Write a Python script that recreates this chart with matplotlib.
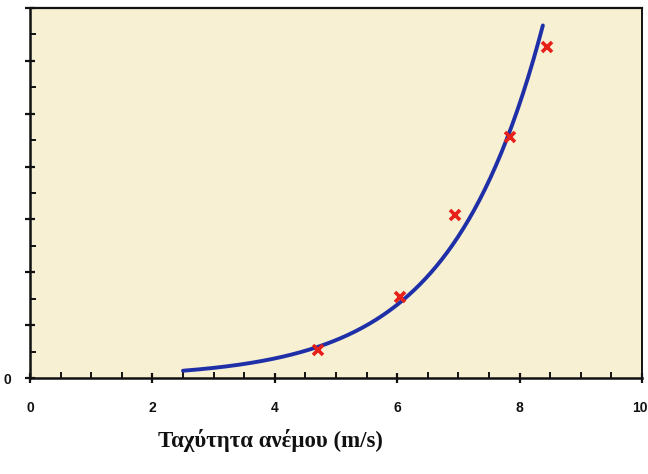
import matplotlib
matplotlib.use("Agg")
import matplotlib.pyplot as plt
import numpy as np
from matplotlib.ticker import MultipleLocator, FixedLocator

# Measured points (red crosses)
speed_pts = [4.71, 6.05, 6.94, 7.84, 8.45]
power_pts = [0.53, 1.53, 3.08, 4.56, 6.26]

# Exponential trendline range (as drawn in the picture)
trend_start = 2.5
trend_end = 8.38

x_ticks = [0, 2, 4, 6, 8, 10]
x_labels = ["0", "2", "4", "6", "8", "10"]
xlabel = "Ταχύτητα ανέμου (m/s)"

# exponential trendline fitted to the measured points
b, a = np.polyfit(speed_pts, np.log(power_pts), 1)
tx = np.linspace(trend_start, trend_end, 200)
ty = np.exp(a + b * tx)

fig = plt.figure(figsize=(6.48, 4.74), dpi=100)
fig.patch.set_facecolor("white")
ax = fig.add_axes([30/648, 1 - 378/474, 612/648, 370/474])
ax.set_facecolor("#f7f0d3")

ax.plot(tx, ty, color="#1f2fa8", lw=2.8, solid_capstyle="round", zorder=2)
ax.plot(speed_pts, power_pts, linestyle="none", marker="x", color="#e8201a",
        markersize=7, markeredgewidth=2.6, zorder=3)

ax.set_xlim(0, 10)
ax.set_ylim(0, 7)
ax.xaxis.set_major_locator(FixedLocator(x_ticks))
ax.xaxis.set_minor_locator(MultipleLocator(0.5))
ax.yaxis.set_minor_locator(MultipleLocator(0.5))
# last label is drawn separately so it stays inside the figure
ax.set_xticklabels(x_labels[:-1] + [""])
ax.set_yticks(range(0, 8))
ax.set_yticklabels(["0" if v == 0 else "" for v in range(0, 8)])

lab_font = dict(fontfamily="Liberation Sans", fontweight="bold", fontsize=10)
for lab in ax.get_xticklabels() + ax.get_yticklabels():
    lab.set_fontfamily(lab_font["fontfamily"])
    lab.set_fontweight(lab_font["fontweight"])
    lab.set_fontsize(lab_font["fontsize"])

ax.annotate(x_labels[-1], xy=(x_ticks[-1], 0), xycoords=("data", "axes fraction"),
            xytext=(4, -16.5), textcoords="offset points", ha="right", va="top",
            color="#111111", annotation_clip=False, **lab_font)

ax.tick_params(axis="x", which="major", direction="inout", length=7, width=1.6, pad=13, colors="#111111")
ax.tick_params(axis="x", which="minor", direction="in", length=4, width=1.4, colors="#111111")
ax.tick_params(axis="y", which="major", direction="inout", length=7, width=1.6, pad=10, colors="#111111")
ax.tick_params(axis="y", which="minor", direction="in", length=4, width=1.4, colors="#111111")

for s in ax.spines.values():
    s.set_color("#111111")
ax.spines["left"].set_linewidth(1.8)
ax.spines["bottom"].set_linewidth(1.8)
ax.spines["top"].set_linewidth(1.6)
ax.spines["right"].set_linewidth(1.4)

fig.text(0.417, 1 - 441/474, xlabel, ha="center", va="center",
         fontfamily="Liberation Serif", fontweight="bold", fontsize=16.5, color="#111111")

fig.savefig("out.png", dpi=100)
